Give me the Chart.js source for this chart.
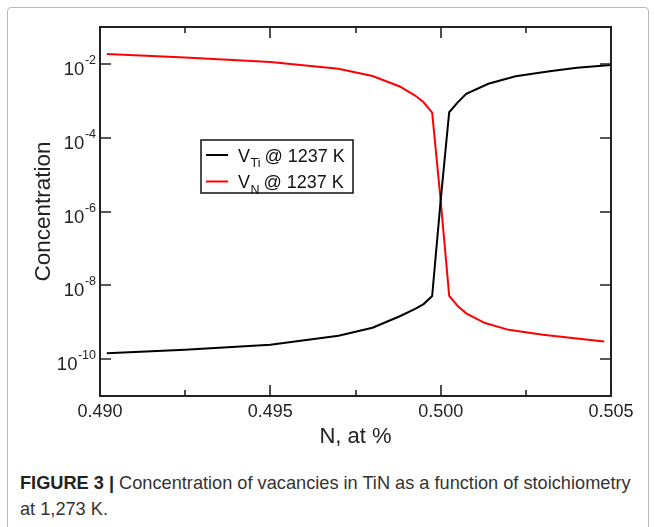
<!DOCTYPE html>
<html><head><meta charset="utf-8">
<script src="https://cdn.jsdelivr.net/npm/chart.js@4.4.0/dist/chart.umd.min.js"></script>
<style>
html,body{margin:0;padding:0;background:#fff;}
body{width:655px;height:527px;position:relative;overflow:hidden;font-family:"Liberation Sans",Arial,sans-serif;}
#frame{position:absolute;left:7px;top:7px;width:640px;height:600px;border:1px solid #b8b8b8;border-radius:4px;}
#wrap{position:absolute;left:0;top:0;width:655px;height:460px;}
#cap{position:absolute;left:20px;top:470px;width:630px;font-size:18.2px;line-height:26px;color:#333;white-space:nowrap;}
#cap b{color:#222}
</style></head><body>
<div id="frame"></div>
<div id="wrap"><canvas id="c" width="655" height="460"></canvas></div>
<div id="cap"><b>FIGURE 3 |</b> Concentration of vacancies in TiN as a function of stoichiometry<br>at 1,273 K.</div>
<script>
// ---- data ----
const xTi = [0.4902,0.4925,0.4950,0.4970,0.4980,0.4988,0.49925,0.4995,0.49975,0.5000,0.50025,0.5005,0.50075,0.5014,0.5022,0.5032,0.5040,0.5050];
const yTi = [1.45e-10,1.78e-10,2.45e-10,4.3e-10,7.1e-10,1.45e-9,2.3e-9,3.1e-9,5.1e-9,2.0e-6,4.9e-4,9.1e-4,1.55e-3,2.9e-3,4.6e-3,6.3e-3,7.9e-3,9.3e-3];
const xN  = [0.4902,0.4925,0.4950,0.4970,0.4980,0.4988,0.49925,0.4995,0.49975,0.5000,0.50025,0.5005,0.50075,0.5013,0.5020,0.5030,0.5040,0.5048];
const yN  = [1.86e-2,1.48e-2,1.12e-2,7.4e-3,4.7e-3,2.44e-3,1.39e-3,9.1e-4,4.8e-4,2.0e-6,5.2e-9,2.75e-9,1.74e-9,9.5e-10,6.2e-10,4.6e-10,3.6e-10,3.0e-10];
const seriesLabels = ['V_Ti @ 1237 K','V_N @ 1237 K'];
const legendMain = ['V','V'];
const legendSub = ['Ti','N'];
const legendRest = ['@ 1237 K','@ 1237 K'];
const xTicks = [0.490,0.4925,0.495,0.4975,0.500,0.5025,0.505];
const xTickLabels = ['0.490','','0.495','','0.500','','0.505'];
const yTicks = [1e-10,1e-8,1e-6,1e-4,1e-2];
const yTickExp = ['-10','-8','-6','-4','-2'];
const xTitle = 'N, at %';
const yTitle = 'Concentration';

const FAM = '"Liberation Sans", Arial, sans-serif';
const AX = '#222';

const decor = {
  id:'decor',
  afterDatasetsDraw(chart){
    const {ctx, chartArea:a, scales:{x,y}} = chart;
    ctx.save();
    ctx.strokeStyle = AX; ctx.lineWidth = 2;
    ctx.strokeRect(a.left, a.top, a.right-a.left, a.bottom-a.top);
    ctx.lineWidth = 1.6;
    ctx.beginPath();
    xTicks.forEach((v,i)=>{
      const px = Math.round(x.getPixelForValue(v));
      const L = xTickLabels[i] ? 11 : 6;
      ctx.moveTo(px, a.bottom); ctx.lineTo(px, a.bottom-L);
      ctx.moveTo(px, a.top); ctx.lineTo(px, a.top+L);
    });
    yTicks.forEach(v=>{
      const py = Math.round(y.getPixelForValue(v));
      ctx.moveTo(a.left, py); ctx.lineTo(a.left+11, py);
      ctx.moveTo(a.right, py); ctx.lineTo(a.right-11, py);
    });
    ctx.stroke();
    // y tick labels 10^n
    ctx.fillStyle = AX; ctx.textAlign='left'; ctx.textBaseline='alphabetic';
    const right = a.left - 4;
    yTicks.forEach((v,i)=>{
      const py = y.getPixelForValue(v);
      ctx.font = '12.5px '+FAM;
      const ew = ctx.measureText(yTickExp[i]).width;
      ctx.fillText(yTickExp[i], right-ew, py);
      ctx.font = '18.5px '+FAM;
      const bw = ctx.measureText('10').width;
      ctx.fillText('10', right-ew-bw-0.5, py+11);
    });
    // legend
    const bx=201, by=140, bw2=152, bh=53;
    ctx.lineWidth = 1.5; ctx.strokeStyle='#111';
    ctx.strokeRect(bx,by,bw2,bh);
    chart.data.datasets.forEach((ds,i)=>{
      const cy = by + 15 + i*26.5;
      ctx.strokeStyle = ds.borderColor; ctx.lineWidth = 2;
      ctx.beginPath(); ctx.moveTo(bx+5, cy); ctx.lineTo(bx+27, cy); ctx.stroke();
      ctx.fillStyle = '#111';
      ctx.font = '18px '+FAM;
      let tx = bx+37;
      ctx.fillText(legendMain[i], tx, cy+6.5);
      tx += ctx.measureText(legendMain[i]).width + 0.5;
      ctx.font = '12.5px '+FAM;
      ctx.fillText(legendSub[i], tx, cy+12);
      tx += ctx.measureText(legendSub[i]).width + 4;
      ctx.font = '18px '+FAM;
      ctx.fillText(legendRest[i], tx, cy+6.5);
    });
    ctx.restore();
  }
};

new Chart(document.getElementById('c').getContext('2d'), {
  type:'line',
  data:{datasets:[
    {label:seriesLabels[0], data:xTi.map((v,i)=>({x:v,y:yTi[i]})), borderColor:'#000000', borderWidth:2, pointRadius:0, tension:0, fill:false},
    {label:seriesLabels[1], data:xN.map((v,i)=>({x:v,y:yN[i]})), borderColor:'#ff0000', borderWidth:2, pointRadius:0, tension:0, fill:false}
  ]},
  options:{
    responsive:false, animation:false, devicePixelRatio:1,
    layout:{padding:{top:27, right:44, left:0, bottom:0}},
    plugins:{legend:{display:false}, tooltip:{enabled:false}},
    scales:{
      x:{type:'linear', min:0.490, max:0.505,
        afterBuildTicks:s=>{s.ticks = xTicks.map(v=>({value:v}));},
        afterFit:s=>{s.height = 64;},
        grid:{display:false, drawTicks:false}, border:{display:false},
        ticks:{autoSkip:false, maxRotation:0, minRotation:0, padding:5, color:AX, font:{size:18, family:FAM},
          callback:(v,i)=>xTickLabels[i]},
        title:{display:true, text:xTitle, color:AX, font:{size:22, family:FAM}, padding:{top:0,bottom:10}}
      },
      y:{type:'logarithmic', min:1e-11, max:1e-1,
        afterBuildTicks:s=>{s.ticks = yTicks.map(v=>({value:v}));},
        afterFit:s=>{s.width = 100;},
        grid:{display:false, drawTicks:false}, border:{display:false},
        ticks:{display:false},
        title:{display:true, text:yTitle, color:AX, font:{size:22.5, family:FAM}, padding:{top:30,bottom:0}}
      }
    }
  },
  plugins:[decor]
});
</script>
</body></html>
